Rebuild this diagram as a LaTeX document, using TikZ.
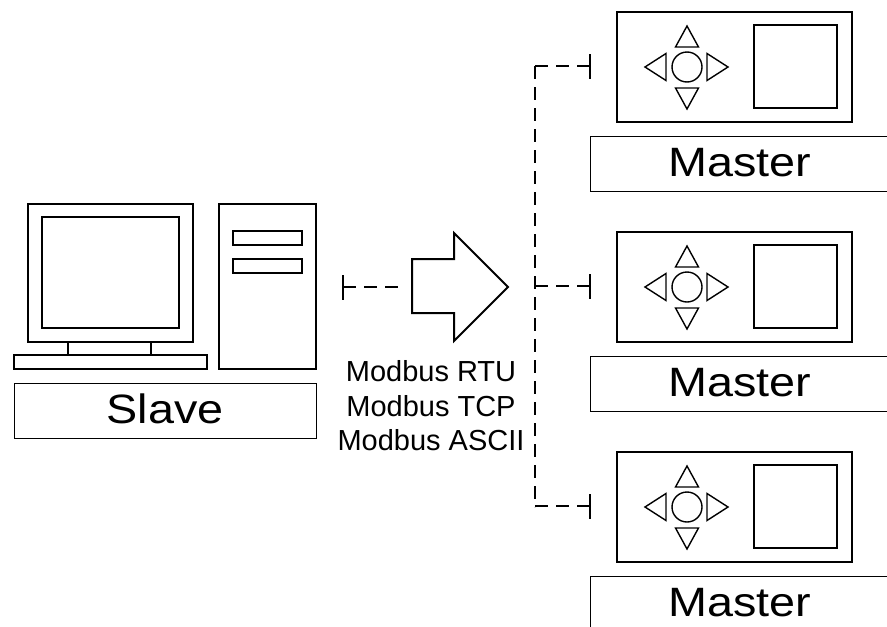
\documentclass[tikz,border=0pt]{standalone}
\usepackage{fontspec}
\setmainfont{Liberation Sans}
\begin{document}
\begin{tikzpicture}[x=1pt,y=-1pt,
  box/.style={draw, rectangle, inner sep=0pt, outer sep=0pt, anchor=north west},
  heavy/.style={line width=2pt},
  light/.style={line width=1pt},
  pad/.style={line width=1.4pt, line join=miter},
  bus/.style={line width=1.5pt, dash pattern=on 13pt off 8pt},
  tbar/.style={line width=1.6pt},
  caption/.style={font=\fontsize{41}{41}\selectfont, anchor=base, inner sep=0pt},
  protocol/.style={font=\fontsize{29}{34.5}\selectfont, align=center, inner sep=0pt}
]
\clip (0,0) rectangle (887,627);

% ---- Slave: monitor, stand, keyboard and tower ----
\node[box, heavy, minimum width=165pt, minimum height=138pt] (monitor) at (28,204) {};
\node[box, heavy, minimum width=137pt, minimum height=111pt] (display) at (42,217) {};
\node[box, heavy, minimum width=83pt,  minimum height=13pt]  (neck)    at (68,342) {};
\node[box, heavy, minimum width=193pt, minimum height=14pt]  (keyboard) at (14,355) {};
\node[box, heavy, minimum width=97pt,  minimum height=165pt] (tower)   at (219,204) {};
\node[box, heavy, minimum width=69pt,  minimum height=14pt]  (drive1)  at (233,231) {};
\node[box, heavy, minimum width=69pt,  minimum height=14pt]  (drive2)  at (233,259) {};
\node[box, light, minimum width=302pt, minimum height=55pt]  (slavebox) at (14,383) {};
\node[caption] (slave) at (165,423) {\scalebox{1.14}[1]{Slave}};

% ---- Link from the slave ----
\coordinate (lt) at (343,287);
\coordinate (le) at (398,287);
\draw[bus] (lt) -- (le);
\draw[tbar] (lt) ++(0,-12) -- ++(0,25);

% ---- Protocol arrow ----
\draw[heavy, line join=miter] (412,259) -- (454,259) -- (454,233) -- (508,287)
  -- (454,341) -- (454,313) -- (412,313) -- cycle;
\node[protocol] (protocols) at (431,406) {Modbus RTU\\Modbus TCP\\Modbus ASCII};

% ---- Bus to the masters ----
\coordinate (bustop) at (535,66);
\coordinate (busbot) at (535,507);
\draw[bus] (bustop) -- (busbot);

% ---- Masters ----
\foreach \t [count=\i] in {12,232,452} {
  \node[box, heavy, minimum width=235pt, minimum height=110pt] (master\i) at (617,\t) {};
  \node[box, heavy, minimum width=83pt,  minimum height=83pt]  (screen\i) at (754,\t+13) {};
  \coordinate (pad\i) at (687,\t+55);
  \draw[pad] (pad\i) circle[radius=15pt];
  \draw[pad] (pad\i) ++(0,-41) -- ++(-11.5,21) -- ++(23,0) -- cycle;
  \draw[pad] (pad\i) ++(0,42) -- ++(-11.5,-21) -- ++(23,0) -- cycle;
  \draw[pad] (pad\i) ++(-42,0) -- ++(21,-13.5) -- ++(0,27) -- cycle;
  \draw[pad] (pad\i) ++(41,0) -- ++(-21,-13.5) -- ++(0,27) -- cycle;
  \node[box, light, minimum width=320pt, minimum height=55pt] (masterbox\i) at (590,\t+124) {};
  \node[caption] (mastertext\i) at (740,\t+164) {\scalebox{1.14}[1]{Master}};
  % branch from the bus
  \coordinate (tap\i) at (535,\t+54);
  \coordinate (end\i) at (590,\t+54);
  \draw[bus] (tap\i) -- (end\i);
  \draw[tbar] (end\i) ++(0,-12) -- ++(0,25);
}
\end{tikzpicture}
\end{document}
